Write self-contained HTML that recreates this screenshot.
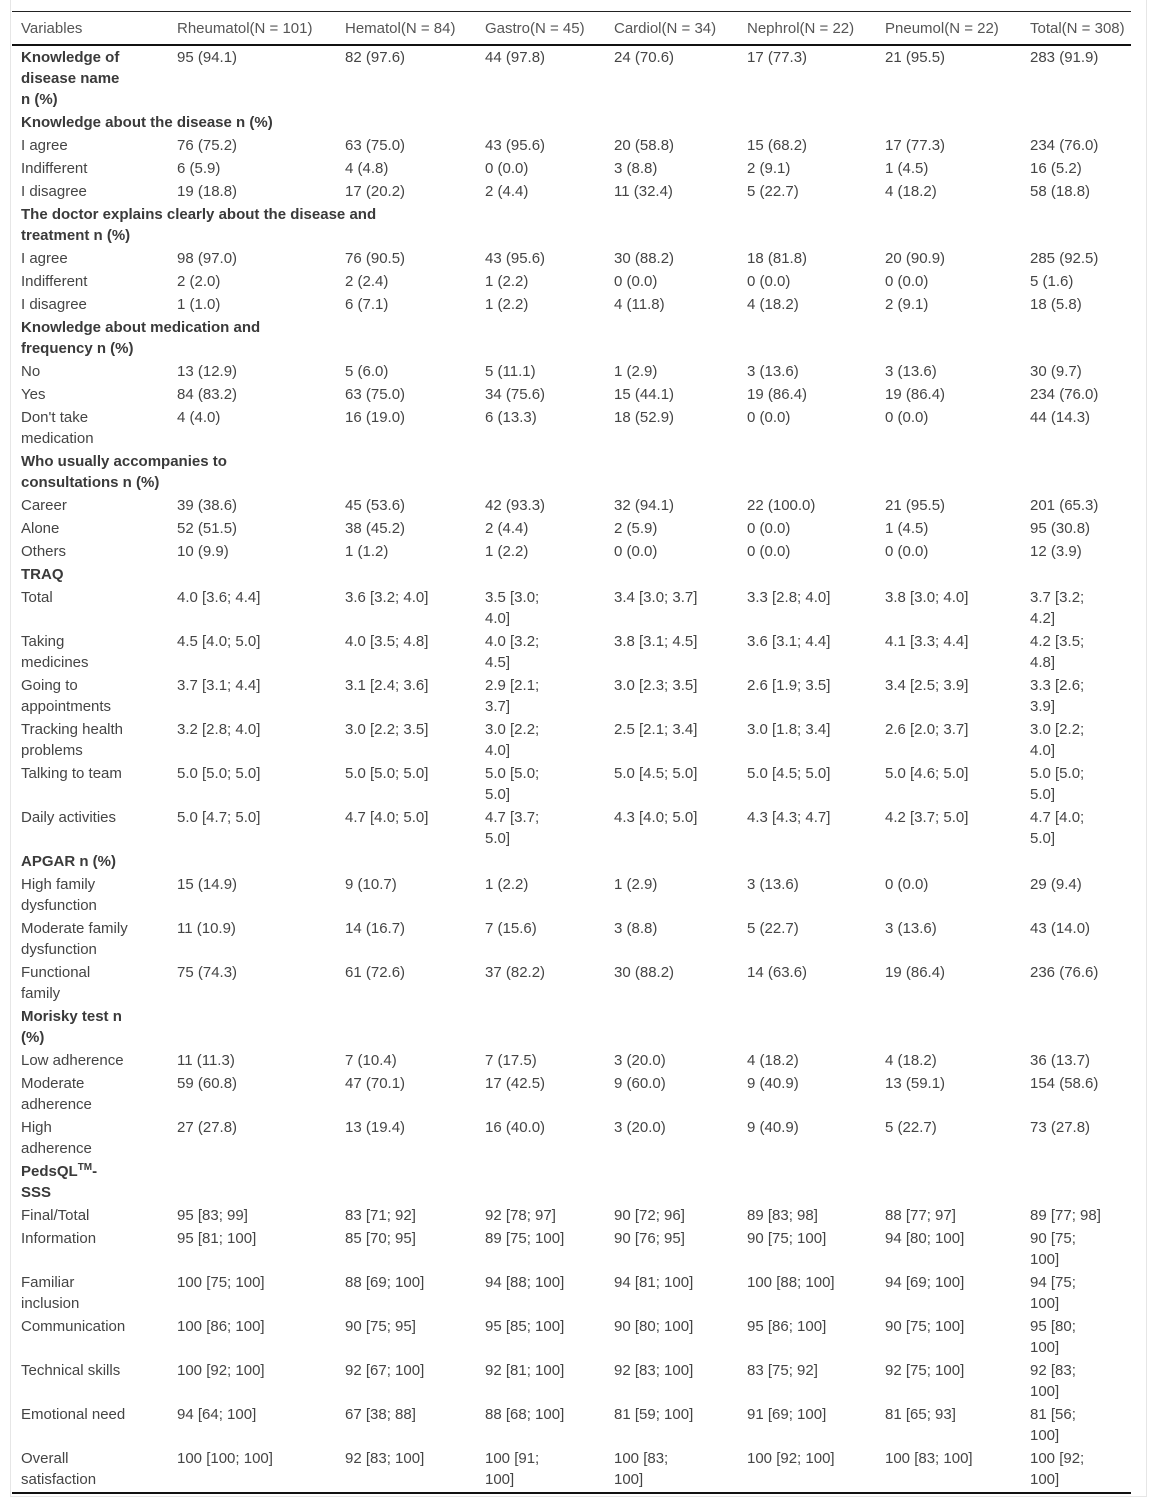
<!DOCTYPE html>
<html><head><meta charset="utf-8"><style>
body{margin:0;background:#fff;width:1157px;height:1507px;overflow:hidden;font-family:"Liberation Sans",sans-serif;}
.box{position:absolute;left:10px;top:-1px;width:1135px;height:1497px;border:1px solid #e6e6e6;border-top:none;}
table{position:absolute;left:12px;top:11px;border-collapse:collapse;table-layout:fixed;width:1119px;font-size:15px;color:#444;}
td,th{padding:1px 0 1px 9px;line-height:21px;vertical-align:top;text-align:left;white-space:nowrap;font-weight:normal;}
thead th{padding-top:6px;padding-bottom:5px;border-top:1px solid #222;border-bottom:2px solid #111;color:#555;}
tbody tr:last-child td{border-bottom:2px solid #111;padding-bottom:2px;}
td.s{font-weight:bold;color:#3a3a3a;}
sup{font-size:10px;line-height:0;}
</style></head><body>
<div class="box"></div>
<table>
<colgroup><col style="width:156px"><col style="width:168px"><col style="width:140px"><col style="width:129px"><col style="width:133px"><col style="width:138px"><col style="width:145px"><col style="width:110px"></colgroup>
<thead><tr><th>Variables</th><th>Rheumatol(N = 101)</th><th>Hematol(N = 84)</th><th>Gastro(N = 45)</th><th>Cardiol(N = 34)</th><th>Nephrol(N = 22)</th><th>Pneumol(N = 22)</th><th>Total(N = 308)</th></tr></thead>
<tbody>
<tr><td class="s">Knowledge of<br>disease name<br>n (%)</td><td>95 (94.1)</td><td>82 (97.6)</td><td>44 (97.8)</td><td>24 (70.6)</td><td>17 (77.3)</td><td>21 (95.5)</td><td>283 (91.9)</td></tr>
<tr><td class="s" colspan="3">Knowledge about the disease n (%)</td><td></td><td></td><td></td><td></td><td></td></tr>
<tr><td>I agree</td><td>76 (75.2)</td><td>63 (75.0)</td><td>43 (95.6)</td><td>20 (58.8)</td><td>15 (68.2)</td><td>17 (77.3)</td><td>234 (76.0)</td></tr>
<tr><td>Indifferent</td><td>6 (5.9)</td><td>4 (4.8)</td><td>0 (0.0)</td><td>3 (8.8)</td><td>2 (9.1)</td><td>1 (4.5)</td><td>16 (5.2)</td></tr>
<tr><td>I disagree</td><td>19 (18.8)</td><td>17 (20.2)</td><td>2 (4.4)</td><td>11 (32.4)</td><td>5 (22.7)</td><td>4 (18.2)</td><td>58 (18.8)</td></tr>
<tr><td class="s" colspan="3">The doctor explains clearly about the disease and<br>treatment n (%)</td><td></td><td></td><td></td><td></td><td></td></tr>
<tr><td>I agree</td><td>98 (97.0)</td><td>76 (90.5)</td><td>43 (95.6)</td><td>30 (88.2)</td><td>18 (81.8)</td><td>20 (90.9)</td><td>285 (92.5)</td></tr>
<tr><td>Indifferent</td><td>2 (2.0)</td><td>2 (2.4)</td><td>1 (2.2)</td><td>0 (0.0)</td><td>0 (0.0)</td><td>0 (0.0)</td><td>5 (1.6)</td></tr>
<tr><td>I disagree</td><td>1 (1.0)</td><td>6 (7.1)</td><td>1 (2.2)</td><td>4 (11.8)</td><td>4 (18.2)</td><td>2 (9.1)</td><td>18 (5.8)</td></tr>
<tr><td class="s" colspan="2">Knowledge about medication and<br>frequency n (%)</td><td></td><td></td><td></td><td></td><td></td><td></td></tr>
<tr><td>No</td><td>13 (12.9)</td><td>5 (6.0)</td><td>5 (11.1)</td><td>1 (2.9)</td><td>3 (13.6)</td><td>3 (13.6)</td><td>30 (9.7)</td></tr>
<tr><td>Yes</td><td>84 (83.2)</td><td>63 (75.0)</td><td>34 (75.6)</td><td>15 (44.1)</td><td>19 (86.4)</td><td>19 (86.4)</td><td>234 (76.0)</td></tr>
<tr><td>Don't take<br>medication</td><td>4 (4.0)</td><td>16 (19.0)</td><td>6 (13.3)</td><td>18 (52.9)</td><td>0 (0.0)</td><td>0 (0.0)</td><td>44 (14.3)</td></tr>
<tr><td class="s" colspan="2">Who usually accompanies to<br>consultations n (%)</td><td></td><td></td><td></td><td></td><td></td><td></td></tr>
<tr><td>Career</td><td>39 (38.6)</td><td>45 (53.6)</td><td>42 (93.3)</td><td>32 (94.1)</td><td>22 (100.0)</td><td>21 (95.5)</td><td>201 (65.3)</td></tr>
<tr><td>Alone</td><td>52 (51.5)</td><td>38 (45.2)</td><td>2 (4.4)</td><td>2 (5.9)</td><td>0 (0.0)</td><td>1 (4.5)</td><td>95 (30.8)</td></tr>
<tr><td>Others</td><td>10 (9.9)</td><td>1 (1.2)</td><td>1 (2.2)</td><td>0 (0.0)</td><td>0 (0.0)</td><td>0 (0.0)</td><td>12 (3.9)</td></tr>
<tr><td class="s">TRAQ</td><td></td><td></td><td></td><td></td><td></td><td></td><td></td></tr>
<tr><td>Total</td><td>4.0 [3.6; 4.4]</td><td>3.6 [3.2; 4.0]</td><td>3.5 [3.0;<br>4.0]</td><td>3.4 [3.0; 3.7]</td><td>3.3 [2.8; 4.0]</td><td>3.8 [3.0; 4.0]</td><td>3.7 [3.2;<br>4.2]</td></tr>
<tr><td>Taking<br>medicines</td><td>4.5 [4.0; 5.0]</td><td>4.0 [3.5; 4.8]</td><td>4.0 [3.2;<br>4.5]</td><td>3.8 [3.1; 4.5]</td><td>3.6 [3.1; 4.4]</td><td>4.1 [3.3; 4.4]</td><td>4.2 [3.5;<br>4.8]</td></tr>
<tr><td>Going to<br>appointments</td><td>3.7 [3.1; 4.4]</td><td>3.1 [2.4; 3.6]</td><td>2.9 [2.1;<br>3.7]</td><td>3.0 [2.3; 3.5]</td><td>2.6 [1.9; 3.5]</td><td>3.4 [2.5; 3.9]</td><td>3.3 [2.6;<br>3.9]</td></tr>
<tr><td>Tracking health<br>problems</td><td>3.2 [2.8; 4.0]</td><td>3.0 [2.2; 3.5]</td><td>3.0 [2.2;<br>4.0]</td><td>2.5 [2.1; 3.4]</td><td>3.0 [1.8; 3.4]</td><td>2.6 [2.0; 3.7]</td><td>3.0 [2.2;<br>4.0]</td></tr>
<tr><td>Talking to team</td><td>5.0 [5.0; 5.0]</td><td>5.0 [5.0; 5.0]</td><td>5.0 [5.0;<br>5.0]</td><td>5.0 [4.5; 5.0]</td><td>5.0 [4.5; 5.0]</td><td>5.0 [4.6; 5.0]</td><td>5.0 [5.0;<br>5.0]</td></tr>
<tr><td>Daily activities</td><td>5.0 [4.7; 5.0]</td><td>4.7 [4.0; 5.0]</td><td>4.7 [3.7;<br>5.0]</td><td>4.3 [4.0; 5.0]</td><td>4.3 [4.3; 4.7]</td><td>4.2 [3.7; 5.0]</td><td>4.7 [4.0;<br>5.0]</td></tr>
<tr><td class="s">APGAR n (%)</td><td></td><td></td><td></td><td></td><td></td><td></td><td></td></tr>
<tr><td>High family<br>dysfunction</td><td>15 (14.9)</td><td>9 (10.7)</td><td>1 (2.2)</td><td>1 (2.9)</td><td>3 (13.6)</td><td>0 (0.0)</td><td>29 (9.4)</td></tr>
<tr><td>Moderate family<br>dysfunction</td><td>11 (10.9)</td><td>14 (16.7)</td><td>7 (15.6)</td><td>3 (8.8)</td><td>5 (22.7)</td><td>3 (13.6)</td><td>43 (14.0)</td></tr>
<tr><td>Functional<br>family</td><td>75 (74.3)</td><td>61 (72.6)</td><td>37 (82.2)</td><td>30 (88.2)</td><td>14 (63.6)</td><td>19 (86.4)</td><td>236 (76.6)</td></tr>
<tr><td class="s">Morisky test n<br>(%)</td><td></td><td></td><td></td><td></td><td></td><td></td><td></td></tr>
<tr><td>Low adherence</td><td>11 (11.3)</td><td>7 (10.4)</td><td>7 (17.5)</td><td>3 (20.0)</td><td>4 (18.2)</td><td>4 (18.2)</td><td>36 (13.7)</td></tr>
<tr><td>Moderate<br>adherence</td><td>59 (60.8)</td><td>47 (70.1)</td><td>17 (42.5)</td><td>9 (60.0)</td><td>9 (40.9)</td><td>13 (59.1)</td><td>154 (58.6)</td></tr>
<tr><td>High<br>adherence</td><td>27 (27.8)</td><td>13 (19.4)</td><td>16 (40.0)</td><td>3 (20.0)</td><td>9 (40.9)</td><td>5 (22.7)</td><td>73 (27.8)</td></tr>
<tr><td class="s">PedsQL<sup>TM</sup>-<br>SSS</td><td></td><td></td><td></td><td></td><td></td><td></td><td></td></tr>
<tr><td>Final/Total</td><td>95 [83; 99]</td><td>83 [71; 92]</td><td>92 [78; 97]</td><td>90 [72; 96]</td><td>89 [83; 98]</td><td>88 [77; 97]</td><td>89 [77; 98]</td></tr>
<tr><td>Information</td><td>95 [81; 100]</td><td>85 [70; 95]</td><td>89 [75; 100]</td><td>90 [76; 95]</td><td>90 [75; 100]</td><td>94 [80; 100]</td><td>90 [75;<br>100]</td></tr>
<tr><td>Familiar<br>inclusion</td><td>100 [75; 100]</td><td>88 [69; 100]</td><td>94 [88; 100]</td><td>94 [81; 100]</td><td>100 [88; 100]</td><td>94 [69; 100]</td><td>94 [75;<br>100]</td></tr>
<tr><td>Communication</td><td>100 [86; 100]</td><td>90 [75; 95]</td><td>95 [85; 100]</td><td>90 [80; 100]</td><td>95 [86; 100]</td><td>90 [75; 100]</td><td>95 [80;<br>100]</td></tr>
<tr><td>Technical skills</td><td>100 [92; 100]</td><td>92 [67; 100]</td><td>92 [81; 100]</td><td>92 [83; 100]</td><td>83 [75; 92]</td><td>92 [75; 100]</td><td>92 [83;<br>100]</td></tr>
<tr><td>Emotional need</td><td>94 [64; 100]</td><td>67 [38; 88]</td><td>88 [68; 100]</td><td>81 [59; 100]</td><td>91 [69; 100]</td><td>81 [65; 93]</td><td>81 [56;<br>100]</td></tr>
<tr><td>Overall<br>satisfaction</td><td>100 [100; 100]</td><td>92 [83; 100]</td><td>100 [91;<br>100]</td><td>100 [83;<br>100]</td><td>100 [92; 100]</td><td>100 [83; 100]</td><td>100 [92;<br>100]</td></tr>
</tbody></table>
</body></html>
